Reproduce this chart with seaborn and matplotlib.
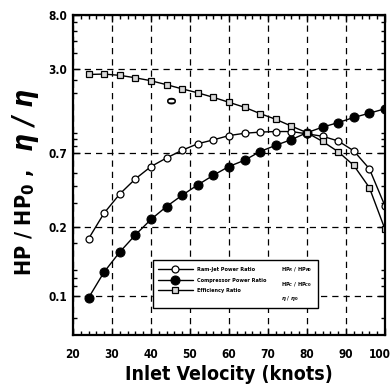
import numpy as np
import matplotlib
matplotlib.use("Agg")
import matplotlib.pyplot as plt
import seaborn as sns
from matplotlib import font_manager as fm
from matplotlib.lines import Line2D
from matplotlib.transforms import ScaledTranslation
from matplotlib.ticker import FixedLocator, FixedFormatter, MultipleLocator

# ---------------- data ----------------
velocity = [24, 28, 32, 36, 40, 44, 48, 52, 56, 60,
            64, 68, 72, 76, 80, 84, 88, 92, 96, 100]
ramjet_ratio = [0.177, 0.252, 0.349, 0.452, 0.558, 0.647, 0.738, 0.826, 0.883, 0.951,
                0.99, 1.01, 1.02, 1.02, 0.98, 0.94, 0.867, 0.731, 0.538, 0.285]
compressor_ratio = [0.098, 0.127, 0.155, 0.184, 0.226, 0.282, 0.342, 0.408, 0.481, 0.559,
                    0.622, 0.722, 0.804, 0.887, 1.00, 1.10, 1.19, 1.30, 1.40, 1.51]
efficiency_ratio = [2.73, 2.75, 2.69, 2.58, 2.45, 2.29, 2.13, 1.99, 1.84, 1.69,
                    1.55, 1.39, 1.26, 1.12, 1.00, 0.86, 0.72, 0.57, 0.39, 0.195]

series_labels = ["Ram-Jet Power Ratio", "Compressor Power Ratio", "Efficiency Ratio"]
series_formulas = [r"HP$_R$ / HP$_{R0}$", r"HP$_C$ / HP$_{C0}$", r"$\eta$ / $\eta_0$"]

y_ticks = [0.1, 0.2, 0.7, 3.0, 8.0]
y_tick_labels = ["0.1", "0.2", "0.7", "3.0", "8.0"]
y_minor = [0.08, 0.11, 0.12, 0.13, 0.17, 0.3, 0.4, 0.5, 0.8, 0.9, 1.0, 2.0, 2.5, 4, 5, 6, 7]
x_ticks = [20, 30, 40, 50, 60, 70, 80, 90, 100]
x_tick_labels = ["20", "30", "40", "50", "60", "70", "80", "90", "100"]

# ---------------- style ----------------
sns.set_style("ticks")


def _pick_font(italic=False):
    files = [f.fname for f in fm.fontManager.ttflist]
    if italic:
        prefs = ["LiberationSansNarrow-BoldItalic", "DejaVuSansCondensed-BoldOblique",
                 "RobotoCondensed-BoldItalic", "LiberationSans-BoldItalic"]
    else:
        prefs = ["LiberationSansNarrow-Bold.", "DejaVuSansCondensed-Bold.",
                 "RobotoCondensed-Bold.", "LiberationSans-Bold."]
    for p in prefs:
        for f in files:
            if p in f.replace("\\", "/").split("/")[-1]:
                return f
    return None


_bold_file = _pick_font()
_ital_file = _pick_font(italic=True)
_family = fm.FontProperties(fname=_bold_file).get_name() if _bold_file else "Liberation Sans"

plt.rcParams["font.family"] = [_family, "DejaVu Sans"]
plt.rcParams["font.weight"] = "bold"
plt.rcParams["text.color"] = "black"
plt.rcParams["axes.labelcolor"] = "black"
plt.rcParams["xtick.color"] = "black"
plt.rcParams["ytick.color"] = "black"
plt.rcParams["mathtext.fontset"] = "custom"
plt.rcParams["mathtext.rm"] = _family + ":bold"
plt.rcParams["mathtext.it"] = _family + ":bold:italic"
plt.rcParams["mathtext.bf"] = _family + ":bold"


def fprop(size, italic=False):
    f = _ital_file if italic else _bold_file
    if f:
        return fm.FontProperties(fname=f, size=size)
    return fm.FontProperties(family="Liberation Sans", weight="bold",
                             style="italic" if italic else "normal", size=size)


# the printed axis is spaced unevenly between its labels: piecewise-log scale
_lv = np.log10(np.array(y_ticks))
_pos = np.array([0.0, 69.0, 142.0, 226.0, 280.0])
_L = np.concatenate([[-9.0], _lv, [9.0]])
_P = np.concatenate([[_pos[0] - (_lv[0] + 9.0) * (69.0 / (_lv[1] - _lv[0]))],
                     _pos,
                     [_pos[-1] + (9.0 - _lv[-1]) * (54.0 / (_lv[-1] - _lv[-2]))]])


def fwd(v):
    v = np.asarray(v, dtype=float)
    return np.interp(np.log10(np.clip(v, 1e-9, 1e9)), _L, _P)


def inv(u):
    return 10 ** np.interp(np.asarray(u, dtype=float), _P, _L)


fig = plt.figure(figsize=(3.92, 3.90), dpi=100)
ax = fig.add_axes([0.186, 0.141, 0.796, 0.821])
ax.set_yscale("function", functions=(fwd, inv))

sns.lineplot(x=velocity, y=ramjet_ratio, ax=ax, color="black", lw=1.0,
             marker="o", markersize=5, markerfacecolor="white",
             markeredgecolor="black", markeredgewidth=0.9, label=series_labels[0])
sns.lineplot(x=velocity, y=compressor_ratio, ax=ax, color="black", lw=1.0,
             marker="o", markersize=6.5, markerfacecolor="black",
             markeredgecolor="black", label=series_labels[1])
sns.lineplot(x=velocity, y=efficiency_ratio, ax=ax, color="black", lw=1.0,
             marker="s", markersize=4.5, markerfacecolor="#d8d8d8",
             markeredgecolor="black", markeredgewidth=0.9,
             label=series_labels[2])

ax.set_xlim(20, 100)
ax.set_ylim(0.0676, 8.0)

ax.xaxis.set_major_locator(FixedLocator(x_ticks))
ax.xaxis.set_major_formatter(FixedFormatter(x_tick_labels))
ax.xaxis.set_minor_locator(MultipleLocator(2))
ax.yaxis.set_major_locator(FixedLocator(y_ticks))
ax.yaxis.set_major_formatter(FixedFormatter(y_tick_labels))
ax.yaxis.set_minor_locator(FixedLocator(y_minor))

ax.tick_params(which="both", direction="in", top=True, right=True, width=1.0,
               colors="black")
ax.tick_params(which="major", length=5)
ax.tick_params(axis="x", which="major", pad=9)
ax.tick_params(axis="y", which="major", pad=4)
ax.tick_params(which="minor", length=3)
for lab in ax.get_xticklabels() + ax.get_yticklabels():
    lab.set_fontproperties(fprop(8.5))
    lab.set_color("black")

ax.grid(True, which="major", color="black", lw=0.9, ls=(0, (5, 4)))
ax.set_axisbelow(True)
for s in ax.spines.values():
    s.set_linewidth(1.6)
    s.set_color("black")

ax.set_xlabel("Inlet Velocity (knots)", fontproperties=fprop(14), labelpad=3,
              color="black")
ax.set_ylabel("")
fig.text(0.064, 0.43, "HP / HP$_0$ ,", rotation=90, fontproperties=fprop(15.5),
         ha="center", va="center", color="black")
fig.text(0.064, 0.693, "\u03b7 / \u03b7", rotation=90, fontproperties=fprop(20, italic=True),
         ha="center", va="center", color="black")

# stray scanned glyph in the plot
ax.text(0.32, 0.734, "0", transform=ax.transAxes, rotation=90,
        fontproperties=fprop(9), ha="center", va="center", color="black")

# legend: three marked entries plus a column of formulas
handles, labels = ax.get_legend_handles_labels()
blank = [Line2D([], [], linestyle="none") for _ in series_formulas]
leg = ax.legend(handles + blank, labels + series_formulas, ncol=2,
                loc="lower left", bbox_to_anchor=(0.256, 0.084),
                prop=fprop(4), frameon=True, fancybox=False, framealpha=1,
                edgecolor="black", handlelength=6.3, handletextpad=0.7,
                columnspacing=-4.3, labelspacing=1.0, borderpad=0.9,
                borderaxespad=0)
leg.get_frame().set_linewidth(1.0)

fig.canvas.draw()
last = ax.get_xticklabels()[-1]
last.set_transform(last.get_transform() + ScaledTranslation(-4 / 72, 0, fig.dpi_scale_trans))

fig.savefig("out.png", dpi=100)
